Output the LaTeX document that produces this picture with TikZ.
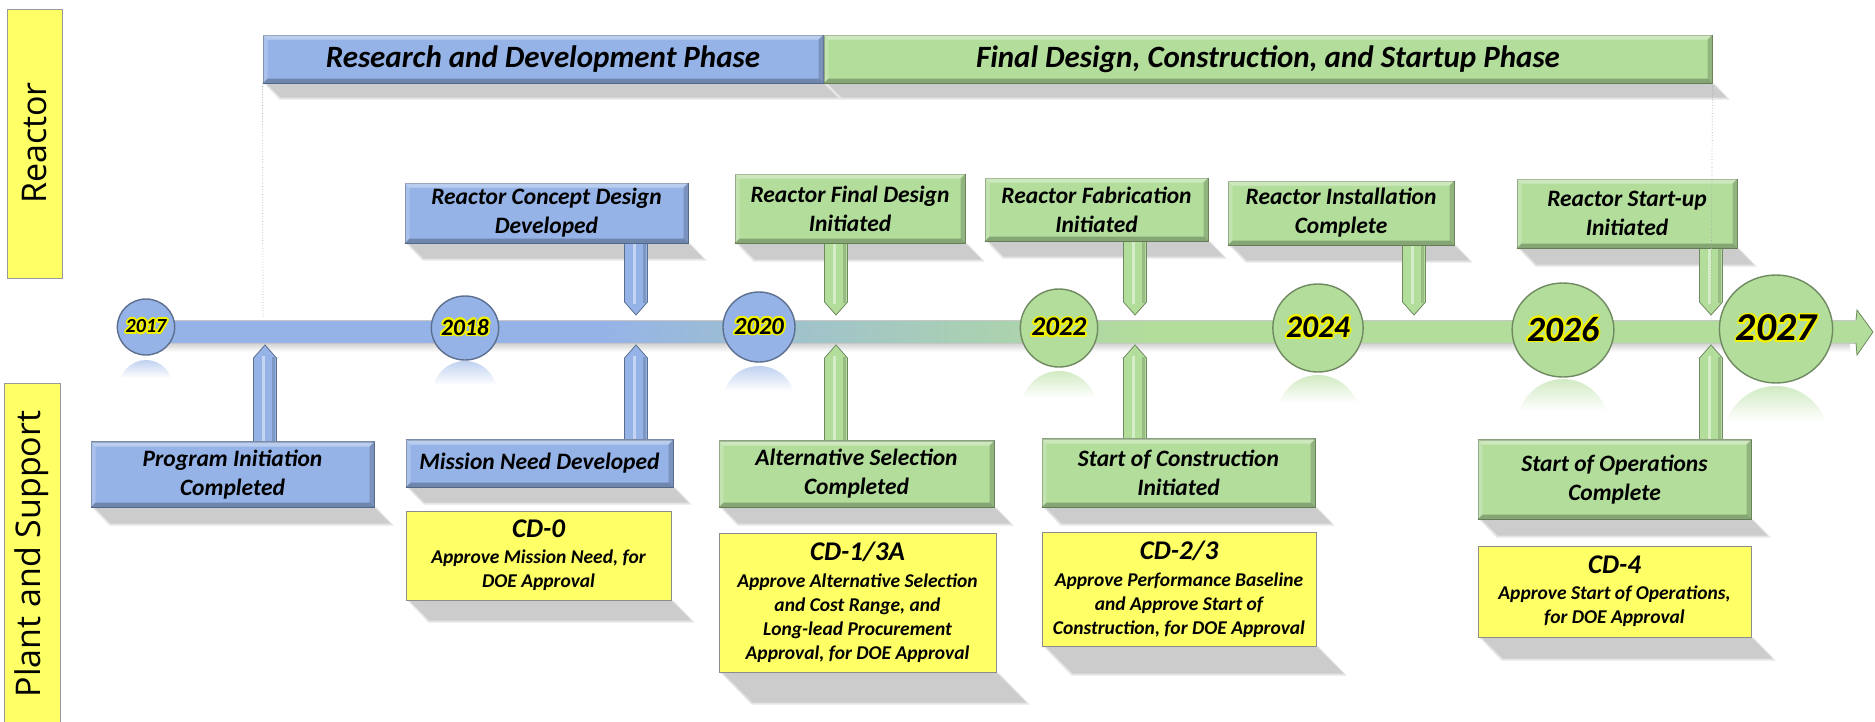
\documentclass[tikz,border=0pt]{standalone}
\usepackage{fontspec}
\setmainfont{Carlito}
\newfontfamily\sidefont{Open Sans}
\usepackage{contour}
\contourlength{1.7pt}
\contournumber{24}
\usetikzlibrary{calc,backgrounds,shapes.geometric}
\definecolor{cblue}{HTML}{95B3E7}
\definecolor{cgreen}{HTML}{B3DD9B}
\definecolor{cyel}{HTML}{FFFF66}
\definecolor{glow}{HTML}{F2F200}
\newcommand\yf[1]{\fontsize{#1}{#1}\selectfont\bfseries\itshape}
\tikzset{
  evbox/.style={draw=#1!68!black, line width=1, fill=#1, inner sep=0pt, align=center,
    font=\fontsize{23.5}{29}\selectfont\bfseries\itshape},
  cdbox/.style={draw=black!45, line width=1, fill=cyel, inner sep=0pt, align=center,
    font=\fontsize{19.5}{24}\selectfont\bfseries\itshape},
  phasebox/.style={evbox=#1, font=\fontsize{31}{31}\selectfont\bfseries\itshape},
  yearc/.style={ellipse, draw=#1!62!black, line width=1.4, fill=#1, inner sep=0pt},
  sidebox/.style={draw=black!40, line width=1, fill=cyel},
  sidetext/.style={rotate=90, font=\sidefont\fontsize{34}{34}\selectfont},
  guide/.style={black!35, dotted, line width=.7},
}
\newcommand\placebox[7]{\node[#2, minimum width={#5-#3}, minimum height={#6-#4}] (#1) at ({(#3+#5)/2},{(#4+#6)/2}) {#7};}
\newcommand\bevel[1]{%
  \fill[white, opacity=.35] (#1.north west) -- (#1.north east) -- ([shift={(-5,5)}]#1.north east) -- ([shift={(5,5)}]#1.north west) -- cycle;
  \fill[white, opacity=.2] (#1.north west) -- ([shift={(5,5)}]#1.north west) -- ([shift={(5,-5)}]#1.south west) -- (#1.south west) -- cycle;
  \fill[black, opacity=.25] (#1.south west) -- (#1.south east) -- ([shift={(-5,-5)}]#1.south east) -- ([shift={(5,-5)}]#1.south west) -- cycle;
  \fill[black, opacity=.18] (#1.north east) -- (#1.south east) -- ([shift={(-5,-5)}]#1.south east) -- ([shift={(-5,5)}]#1.north east) -- cycle;}
\newcommand\shadowof[2]{%
  \begin{scope}[on background layer]
  \fill[black!10] ([xshift=2]#1.south west) -- ([xshift=2]#1.south east) -- ([shift={(#2+3,#2+2)}]#1.south east) -- ([shift={(#2+3,#2+2)}]#1.south west) -- cycle;
  \fill[black!20] ([xshift=4]#1.south west) -- (#1.south east) -- ([shift={(#2,#2)}]#1.south east) -- ([shift={(#2+4,#2)}]#1.south west) -- cycle;
  \end{scope}}
\newcommand\stemdown[3]{%
  \filldraw[fill=#3, draw=#3!62!black, line width=.8]
    ($(#1.south -| #2)+(-11.5,0)$) -- ($(#2)+(-11.5,-13)$) -- (#2) -- ($(#2)+(11.5,-13)$) -- ($(#1.south -| #2)+(11.5,0)$) -- cycle;
  \draw[white, opacity=.45, line width=3] ($(#1.south -| #2)+(-2,0)$) -- ($(#2)+(-2,-11)$);
  \draw[black, opacity=.15, line width=2.5] ($(#1.south -| #2)+(8.5,0)$) -- ($(#2)+(8.5,-12)$);}
\newcommand\stemup[3]{%
  \filldraw[fill=#3, draw=#3!62!black, line width=.8]
    ($(#1.north -| #2)+(-11.5,0)$) -- ($(#2)+(-11.5,13)$) -- (#2) -- ($(#2)+(11.5,13)$) -- ($(#1.north -| #2)+(11.5,0)$) -- cycle;
  \draw[white, opacity=.45, line width=3] ($(#1.north -| #2)+(-2,0)$) -- ($(#2)+(-2,11)$);
  \draw[black, opacity=.15, line width=2.5] ($(#1.north -| #2)+(8.5,0)$) -- ($(#2)+(8.5,12)$);}
\newcommand\refl[6]{% cx, top, rx, h, color, ry
  \begin{scope}
  \clip ({#1},{#2+#6}) ellipse [x radius=#3, y radius=#6];
  \shade[top color=#5!60!white, bottom color=white] ({#1-#3},#2) rectangle ({#1+#3},{#2+#4});
  \end{scope}}
\begin{document}
\begin{tikzpicture}[x=1pt, y=-1pt]
\useasboundingbox (0,0) rectangle (1875,721);
\begin{scope}[on background layer]
\fill[white] (0,0) rectangle (1875,721);
\end{scope}

% side labels
\placebox{reactorlbl}{sidebox}{7}{9}{62}{278}{}
\node[sidetext] (reactortxt) at (35,143) {Reactor};
\placebox{plantlbl}{sidebox}{4}{383}{60}{726}{}
\node[sidetext] (planttxt) at (32,554) {Plant and Support};

% phase bars
\placebox{rd}{phasebox=cblue}{263}{35}{823}{83}{Research and Development Phase}
\placebox{fd}{phasebox=cgreen}{824}{35}{1712}{83}{Final Design, Construction, and Startup Phase}
\shadowof{rd}{14}\shadowof{fd}{14}
\bevel{rd}\bevel{fd}

% guide lines
\coordinate (g1) at (263,318);
\coordinate (g2) at (1711,320);
\draw[guide] (rd.south west) -- (g1);

% timeline
\shade[top color=black!18, bottom color=white] (150,343) rectangle (1850,352);
\fill[cblue] (146,320) rectangle (600,343);
\shade[left color=cblue, right color=cgreen] (600,320) rectangle (1150,343);
\fill[cgreen] (1150,320) rectangle (1858,343);
\draw[black!22, line width=.8] (146,320) -- (1857,320) (146,343) -- (1857,343);
\filldraw[fill=cgreen, draw=cgreen!62!black, line width=.8] (1856,320) -- (1857,310) -- (1873,332) -- (1857,355) -- (1856,343);

% reflections
\refl{146}{360}{27}{18}{cblue}{28}
\refl{465}{361}{32}{24}{cblue}{32}
\refl{759}{366}{36}{25}{cblue}{35}
\refl{1059}{371}{38}{27}{cgreen}{39}
\refl{1318}{375}{42}{28}{cgreen}{44}
\refl{1563}{379}{46}{32}{cgreen}{47}
\refl{1776}{386}{53}{36}{cgreen}{54}

% year circles
\node[yearc=cblue, minimum width=54, minimum height=56, font=\yf{20}] (y2017) at (146,327) {\contour{glow}{2017}};
\node[yearc=cblue, minimum width=64, minimum height=64, font=\yf{23.5}] (y2018) at (465,328) {\contour{glow}{2018}};
\node[yearc=cblue, minimum width=72, minimum height=70, font=\yf{24.5}] (y2020) at (759,327) {\contour{glow}{2020}};
\node[yearc=cgreen, minimum width=76, minimum height=78, font=\yf{27}] (y2022) at (1059,328) {\contour{glow}{2022}};
\node[yearc=cgreen, minimum width=84, minimum height=88, font=\yf{31.5}] (y2024) at (1318,328) {\contour{glow}{2024}};
\node[yearc=cgreen, minimum width=92, minimum height=94, font=\yf{35.5}] (y2026) at (1563,330) {\contour{glow}{2026}};
\node[yearc=cgreen, minimum width=106, minimum height=108, font=\yf{39.5}] (y2027) at (1776,329) {\contour{glow}{2027}};

% tips
\coordinate (t1) at (636,315);
\coordinate (t2) at (836,315);
\coordinate (t3) at (1135,315);
\coordinate (t4) at (1414,315);
\coordinate (t5) at (1711,315);
\coordinate (b1) at (265,345);
\coordinate (b2) at (636,345);
\coordinate (b3) at (836,345);
\coordinate (b4) at (1135,345);
\coordinate (b5) at (1711,345);

% top boxes
\placebox{concept}{evbox=cblue}{405}{183}{688}{243}{Reactor Concept Design\\Developed}
\placebox{finaldes}{evbox=cgreen}{735}{174}{965}{243}{Reactor Final Design\\Initiated}
\placebox{fab}{evbox=cgreen}{985}{178}{1208}{241}{Reactor Fabrication\\Initiated}
\placebox{install}{evbox=cgreen}{1228}{181}{1454}{245}{Reactor Installation\\Complete}
\placebox{startup}{evbox=cgreen}{1517}{179}{1737}{248}{Reactor Start-up\\Initiated}

% bottom boxes
\placebox{proginit}{evbox=cblue}{91}{442}{374}{507}{Program Initiation\\Completed}
\placebox{mission}{evbox=cblue}{406}{440}{673}{487}{Mission Need Developed}
\placebox{altsel}{evbox=cgreen}{719}{441}{994}{507}{Alternative Selection\\Completed}
\placebox{startcon}{evbox=cgreen}{1042}{439}{1315}{507}{Start of Construction\\Initiated}
\placebox{startops}{evbox=cgreen}{1478}{440}{1751}{519}{Start of Operations\\Complete}

% stems (drawn behind boxes)
\begin{scope}[on background layer]
\end{scope}
\stemdown{concept}{t1}{cblue}
\stemdown{finaldes}{t2}{cgreen}
\stemdown{fab}{t3}{cgreen}
\stemdown{install}{t4}{cgreen}
\stemdown{startup}{t5}{cgreen}
\stemup{proginit}{b1}{cblue}
\stemup{mission}{b2}{cblue}
\stemup{altsel}{b3}{cgreen}
\stemup{startcon}{b4}{cgreen}
\stemup{startops}{b5}{cgreen}

% redraw box tops over stems
\foreach \n/\c in {concept/cblue,finaldes/cgreen,fab/cgreen,install/cgreen,startup/cgreen}{
  \draw[\c!68!black, line width=1] (\n.south west) -- (\n.south east);}
\foreach \n/\c in {proginit/cblue,mission/cblue,altsel/cgreen,startcon/cgreen,startops/cgreen}{
  \draw[\c!68!black, line width=1] (\n.north west) -- (\n.north east);}

\foreach \n in {concept,finaldes,fab,install,startup,proginit,mission,altsel,startcon,startops}{\bevel{\n}}
\shadowof{concept}{15}\shadowof{finaldes}{16}\shadowof{fab}{15}\shadowof{install}{15}\shadowof{startup}{16}
\shadowof{proginit}{16}\shadowof{mission}{15}\shadowof{altsel}{16}\shadowof{startcon}{16}\shadowof{startops}{16}

% CD boxes
\placebox{cdzero}{cdbox}{406}{511}{671}{600}{{\fontsize{27}{24}\selectfont CD-0}\\[2pt]Approve Mission Need, for\\DOE Approval}
\placebox{cdone}{cdbox}{719}{533}{996}{672}{{\fontsize{27}{24}\selectfont CD-1/3A}\\[3pt]Approve Alternative Selection\\and Cost Range, and\\Long-lead Procurement\\Approval, for DOE Approval}
\placebox{cdtwo}{cdbox}{1042}{532}{1316}{646}{{\fontsize{27}{24}\selectfont CD-2/3}\\[3pt]Approve Performance Baseline\\and Approve Start of\\Construction, for DOE Approval}
\placebox{cdfour}{cdbox}{1478}{546}{1751}{637}{{\fontsize{27}{24}\selectfont CD-4}\\[2pt]Approve Start of Operations,\\for DOE Approval}
\shadowof{cdzero}{20}\shadowof{cdone}{30}\shadowof{cdtwo}{27}\shadowof{cdfour}{21}

\draw[guide] (fd.south east) -- (g2);
\end{tikzpicture}
\end{document}
